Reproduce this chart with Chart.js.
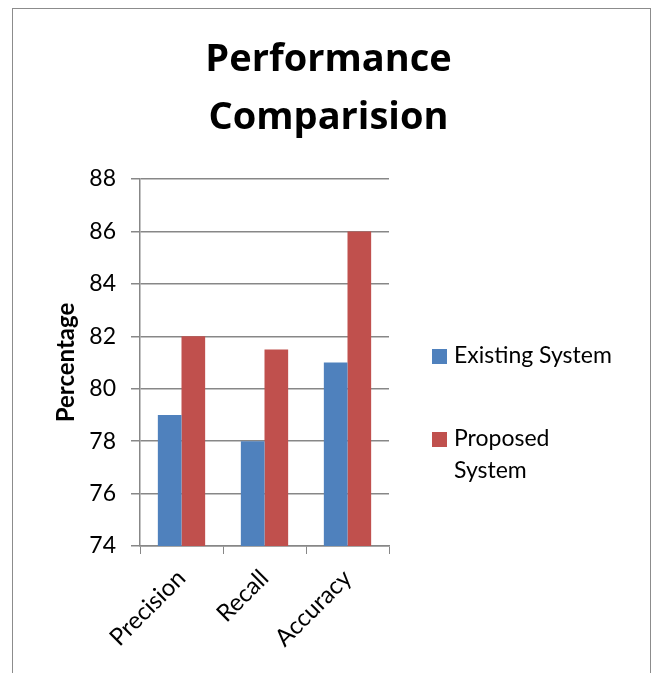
<!DOCTYPE html>
<html>
<head>
<meta charset="utf-8">
<script src="https://cdn.jsdelivr.net/npm/chart.js@4/dist/chart.umd.min.js"></script>
<style>
  html, body { margin: 0; padding: 0; background: #fff; }
  #frame { position: absolute; left: 12px; top: 8px; width: 637px; height: 700px; border: 1px solid #8c8c8c; }
  #wrap { position: absolute; left: 0; top: 0; width: 657px; height: 673px; }
</style>
</head>
<body>
<div id="frame"></div>
<div id="wrap"><canvas id="perf-chart" width="657" height="673"></canvas></div>
<script>
// chart data
const categories = ['Precision', 'Recall', 'Accuracy'];
const existingSystem = [79, 78, 81];
const proposedSystem = [82, 81.5, 86];
const seriesNames = ['Existing System', ['Proposed', 'System']];
const seriesColors = ['#4F81BD', '#C0504D'];

const FONT = 'Lato, "Open Sans", sans-serif';
const GRID = '#878787';

// Legend as a layout box on the right so the title stays centred on the whole canvas
const legendBox = {
  position: 'right',
  weight: 10,
  fullSize: false,
  options: {},
  isHorizontal() { return false; },
  update(maxWidth, maxHeight) {
    this.width = 268;
    this.height = maxHeight;
  },
  draw() {
    const chart = this.chart;
    const ctx = chart.ctx;
    const x = this.left + 43;
    const tops = [chart.chartArea.top + 170, chart.chartArea.top + 253];
    ctx.save();
    ctx.font = '23px ' + FONT;
    ctx.textBaseline = 'middle';
    chart.data.datasets.forEach((ds, i) => {
      const y = tops[i];
      ctx.fillStyle = ds.backgroundColor;
      ctx.fillRect(x, y, 15, 15);
      ctx.fillStyle = '#000';
      const lines = Array.isArray(seriesNames[i]) ? seriesNames[i] : [seriesNames[i]];
      lines.forEach((line, j) => ctx.fillText(line, x + 22, y + 7 + j * 32));
    });
    ctx.restore();
  }
};

const sideLegend = {
  id: 'sideLegend',
  beforeInit(chart) {
    legendBox.chart = chart;
    Chart.layouts.addBox(chart, legendBox);
  }
};

new Chart(document.getElementById('perf-chart'), {
  type: 'bar',
  data: {
    labels: categories,
    datasets: [
      { label: 'Existing System', data: existingSystem, backgroundColor: seriesColors[0] },
      { label: 'Proposed System', data: proposedSystem, backgroundColor: seriesColors[1] }
    ]
  },
  options: {
    responsive: false,
    animation: false,
    layout: { padding: 0 },
    datasets: { bar: { categoryPercentage: 0.57, barPercentage: 1 } },
    plugins: {
      legend: { display: false },
      tooltip: { enabled: false },
      title: {
        display: true,
        text: ['Performance', 'Comparision'],
        color: '#000',
        font: { family: '"Open Sans", sans-serif', size: 38, weight: 'bold', lineHeight: 58 / 38 },
        padding: { top: 31, bottom: 32 }
      }
    },
    scales: {
      x: {
        grid: { drawOnChartArea: false, color: GRID, tickLength: 8, offset: true },
        border: { color: GRID, width: 1.5 },
        ticks: { color: '#000', font: { family: FONT, size: 24 }, minRotation: 45, maxRotation: 45, padding: 10 },
        afterFit: s => { s.height = 127; }
      },
      y: {
        min: 74,
        max: 88,
        ticks: { stepSize: 2, color: '#000', font: { family: FONT, size: 23 }, padding: 15 },
        grid: { color: GRID, lineWidth: 1.5, tickLength: 9 },
        border: { color: GRID, width: 1.5 },
        title: {
          display: true,
          text: 'Percentage',
          color: '#000',
          font: { family: FONT, size: 24, weight: 'bold' },
          padding: { top: 52 }
        },
        afterFit: s => { s.width = 140; }
      }
    }
  },
  plugins: [sideLegend]
});
</script>
</body>
</html>
